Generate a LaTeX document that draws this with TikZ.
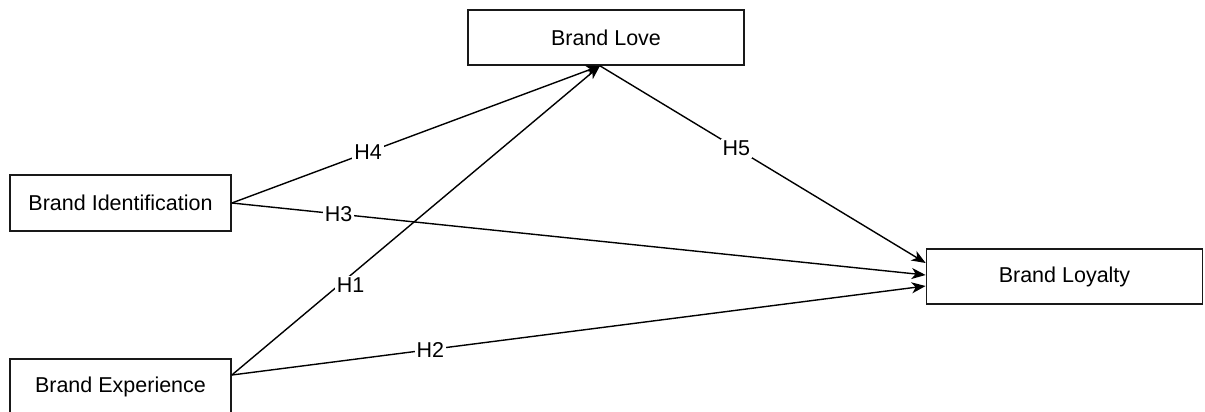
\documentclass[tikz,border=0pt]{standalone}
\usepackage{fontspec}
\setmainfont{Liberation Sans}
\usetikzlibrary{arrows.meta,calc}
\begin{document}
\begin{tikzpicture}[x=1pt,y=-1pt,
  txt/.style={font=\fontsize{21.5}{26}\selectfont},
  box/.style={txt, draw=black!90, line width=1.7pt, fill=white,
    minimum width=276pt, minimum height=55pt, inner sep=0pt},
  smallbox/.style={box, minimum width=221pt, minimum height=56pt},
  link/.style={draw=black, line width=1.4pt,
    -{Stealth[length=14pt,width=11pt,inset=4pt]}},
  lbl/.style={txt, fill=white, inner sep=2pt}]
\useasboundingbox (0,0) rectangle (1205,412);
\clip (0,0) rectangle (1205,412);

% constructs
\node[box] (love) at (606,37.5) {Brand Love};
\node[smallbox] (ident) at (120.5,203) {Brand Identification};
\node[smallbox] (exper) at (120.5,387) {Brand Experience};
\node[box] (loyal) at (1064.5,276.5) {Brand Loyalty};

% connection points on the box borders
\coordinate (loveIn) at ($(love.south)+(-6,0)$);
\coordinate (expOut) at ($(exper.east)+(0,-12)$);
\coordinate (loyA) at ($(loyal.west)+(0,-13.5)$);
\coordinate (loyB) at ($(loyal.west)+(0,-1.5)$);
\coordinate (loyC) at ($(loyal.west)+(0,9.5)$);

% hypotheses
\draw[link] (ident.east) -- node[lbl,pos=0.37] (h4) {H4} (loveIn);
\draw[link] (ident.east) -- node[lbl,pos=0.154] (h3) {H3} (loyB);
\draw[link] (expOut) -- node[lbl,pos=0.3225,yshift=-10pt] (h1) {H1} (loveIn);
\draw[link] (expOut) -- node[lbl,pos=0.286] (h2) {H2} (loyC);
\draw[link] (loveIn) -- node[lbl,pos=0.419] (h5) {H5} (loyA);
\end{tikzpicture}
\end{document}
